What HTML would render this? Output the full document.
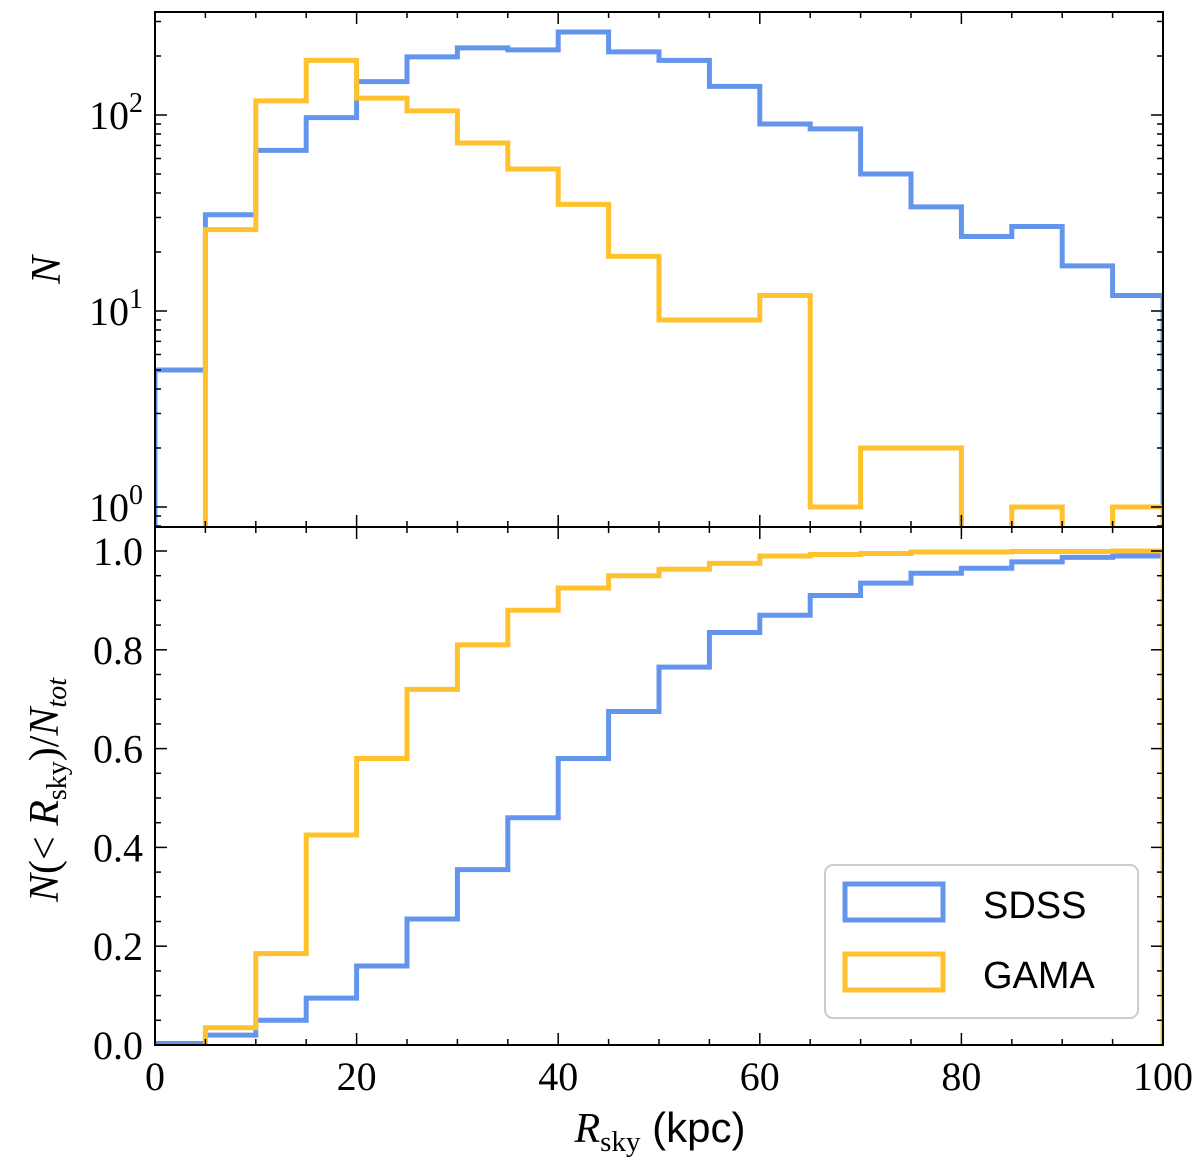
<!DOCTYPE html>
<html><head><meta charset="utf-8">
<style>
html,body{margin:0;padding:0;background:#fff;}
svg{display:block;}
text{font-family:"Liberation Serif",serif;fill:#000;}
.sans{font-family:"Liberation Sans",sans-serif;}
</style></head>
<body>
<svg id="chart" width="1200" height="1172" viewBox="0 0 1200 1172" xmlns="http://www.w3.org/2000/svg">
<g id="g"></g>
</svg>
<script>
const binEdges = [0,5,10,15,20,25,30,35,40,45,50,55,60,65,70,75,80,85,90,95,100];
const sdssCounts = [5,31,66,97,148,198,220,215,265,210,190,140,90,85,50,34,24,27,17,12];
const gamaCounts = [0,26,118,190,122,105,72,53,35,19,9,9,12,1,2,2,0,1,0,1];
const sdssCum = [0.003,0.02,0.05,0.095,0.16,0.255,0.355,0.46,0.58,0.675,0.765,0.835,0.87,0.91,0.935,0.955,0.965,0.978,0.987,0.99];
const gamaCum = [0.0,0.035,0.185,0.425,0.58,0.72,0.81,0.88,0.925,0.95,0.963,0.975,0.99,0.993,0.995,0.998,0.998,0.999,0.999,1.0];
const xTicks = [0,20,40,60,80,100];
const yTopTicks = [0,1,2];
const yBotTicks = [0,0.2,0.4,0.6,0.8,1.0];

const NS="http://www.w3.org/2000/svg";
const g=document.getElementById('g');
const L=155,R=1163,T1=12,B1=527,T2=527,B2=1045;
const BLUE="#6495ED",GOLD="#FFC22E";
function xs(v){return L+(v-0)/(100-0)*(R-L);}
function yTop(v){const lv=Math.log10(v);return 115-(lv-2)*196;}
function yBot(v){return 1045-v*494;}
function el(tag,attrs,parent){const e=document.createElementNS(NS,tag);for(const k in attrs)e.setAttribute(k,attrs[k]);(parent||g).appendChild(e);return e;}

const defs=el('defs',{});
const c1=el('clipPath',{id:'c1'},defs);el('rect',{x:L,y:T1,width:R-L,height:B1-T1},c1);
const c2=el('clipPath',{id:'c2'},defs);el('rect',{x:L,y:T2,width:R-L,height:B2-T2},c2);

function stepPath(vals,yf,base){
  let d=`M${xs(binEdges[0])},${base}`;
  for(let i=0;i<vals.length;i++){
    const y=vals[i]>0?yf(vals[i]):base+50;
    d+=` L${xs(binEdges[i])},${y} L${xs(binEdges[i+1])},${y}`;
  }
  d+=` L${xs(binEdges[binEdges.length-1])},${base}`;
  return d;
}
let p;
p=el('path',{d:stepPath(sdssCounts,yTop,B1+50),fill:'none',stroke:BLUE,'stroke-width':5,'clip-path':'url(#c1)'});


p=el('path',{d:stepPath(gamaCounts,yTop,B1+50),fill:'none',stroke:GOLD,'stroke-width':5,'clip-path':'url(#c1)'});


p=el('path',{d:stepPath(sdssCum,yBot,yBot(0)),fill:'none',stroke:BLUE,'stroke-width':5,'clip-path':'url(#c2)'});


p=el('path',{d:stepPath(gamaCum,yBot,yBot(0)),fill:'none',stroke:GOLD,'stroke-width':5,'clip-path':'url(#c2)'});



let f=el('rect',{x:L,y:T1,width:R-L,height:B1-T1,fill:'none',stroke:'#000','stroke-width':2});


f=el('rect',{x:L,y:T2,width:R-L,height:B2-T2,fill:'none',stroke:'#000','stroke-width':2});



function tick(x1,y1,x2,y2){el('line',{x1,y1,x2,y2,stroke:'#000','stroke-width':1.5});}
for(let v=0;v<=100;v+=5){
  const x=xs(v),len=(v%20===0)?12:6;
  [[T1,B1],[T2,B2]].forEach(([t,b])=>{tick(x,t,x,t+len);tick(x,b,x,b-len);});
}
xTicks.forEach(v=>{
  const t=el('text',{x:xs(v),y:1090,'font-size':40,'text-anchor':'middle'});t.textContent=v;
  
  
});
for(let d=-1;d<=2;d++){
  for(let m=1;m<10;m++){
    const v=m*Math.pow(10,d),y=yTop(v);
    if(y<T1||y>B1)continue;
    const len=m===1?12:6;
    tick(L,y,L+len,y);tick(R,y,R-len,y);
  }
}
yTopTicks.forEach(e=>{
  const y=yTop(Math.pow(10,e));
  const t=el('text',{x:143,y:y+14,'font-size':40,'text-anchor':'end'});
  
  
  t.textContent='10';
  const s=el('tspan',{dy:-17,'font-size':28},t);s.textContent=e;
});
for(let v=0;v<=1.0001;v+=0.05){
  const y=yBot(v),len=(Math.round(v*100)%20===0)?12:6;
  tick(L,y,L+len,y);tick(R,y,R-len,y);
}
yBotTicks.forEach(v=>{
  const t=el('text',{x:143,y:yBot(v)+14,'font-size':40,'text-anchor':'end'});t.textContent=v.toFixed(1);
  
  
});
let t=el('text',{x:0,y:0,'font-size':42,'font-style':'italic',transform:'translate(60,270) rotate(-90)','text-anchor':'middle'});
t.textContent='N';


t=el('text',{x:0,y:0,'font-size':42,transform:'translate(58,790) rotate(-90)','text-anchor':'middle'});


t.innerHTML='<tspan font-style="italic">N</tspan>(&lt; <tspan font-style="italic">R</tspan><tspan font-size="28" dy="8">sky</tspan><tspan dy="-8">)/</tspan><tspan font-style="italic">N</tspan><tspan font-size="28" dy="8" font-style="italic">tot</tspan>';
t=el('text',{x:660,y:1142,'font-size':42,'text-anchor':'middle'});


t.innerHTML='<tspan font-style="italic">R</tspan><tspan font-size="29" dy="9">sky</tspan><tspan dy="-9" class="sans"> (kpc)</tspan>';

const lg=el('g',{});


el('rect',{x:825,y:865,width:313,height:153,rx:8,fill:'#fff',stroke:'#ccc','stroke-width':2},lg);
el('rect',{x:845,y:884,width:98,height:36,fill:'none',stroke:BLUE,'stroke-width':5},lg);
el('rect',{x:845,y:954,width:98,height:36,fill:'none',stroke:GOLD,'stroke-width':5},lg);
t=el('text',{x:983,y:918,'font-size':38,class:'sans'},lg);t.textContent='SDSS';


t=el('text',{x:983,y:988,'font-size':38,class:'sans'},lg);t.textContent='GAMA';


</script>
</body></html>
